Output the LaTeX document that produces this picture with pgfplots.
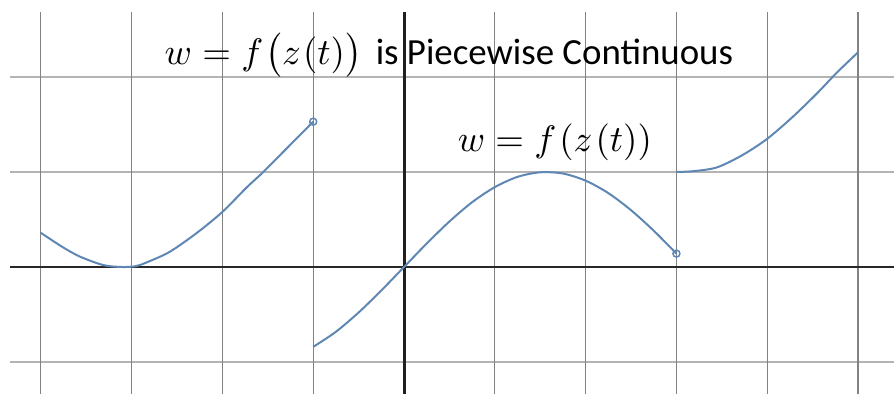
\documentclass[border=0pt]{standalone}
\usepackage{fontspec}
\setmainfont{Carlito}
\usepackage{pgfplots}
\pgfplotsset{compat=1.18}
\definecolor{curve}{RGB}{95,135,180}
\definecolor{vgrid}{RGB}{130,130,130}
\definecolor{hgrid}{RGB}{180,180,180}
\definecolor{axcol}{RGB}{40,40,40}
\begin{document}
\begin{tikzpicture}
\begin{axis}[
  width=894bp, height=394bp, scale only axis,
  xmin=-4.449, xmax=5.396, ymin=-1.337, ymax=2.811,
  hide axis, clip=true,
  every axis plot/.append style={forget plot},
]
% horizontal grid lines
\addplot[hgrid, line width=2bp] coordinates {(-4.339,2) (5.396,2)};
\addplot[hgrid, line width=2bp] coordinates {(-4.339,1) (5.396,1)};
\addplot[hgrid, line width=2bp] coordinates {(-4.339,-1) (5.396,-1)};
% vertical grid lines
\addplot[vgrid, line width=1.3bp] coordinates {(-4,2.684) (-4,-1.337)};
\addplot[vgrid, line width=1.3bp] coordinates {(-3,2.684) (-3,-1.337)};
\addplot[vgrid, line width=1.3bp] coordinates {(-2,2.684) (-2,-1.337)};
\addplot[vgrid, line width=1.3bp] coordinates {(-1,2.684) (-1,-1.337)};
\addplot[vgrid, line width=1.3bp] coordinates {(1,2.684) (1,-1.337)};
\addplot[vgrid, line width=1.3bp] coordinates {(2,2.684) (2,-1.337)};
\addplot[vgrid, line width=1.3bp] coordinates {(3,2.684) (3,-1.337)};
\addplot[vgrid, line width=1.3bp] coordinates {(4,2.684) (4,-1.337)};
\addplot[vgrid, line width=1.3bp] coordinates {(5,2.684) (5,-1.337)};
% axes
\addplot[axcol, line width=2.6bp] coordinates {(-4.339,0) (5.396,0)};
\addplot[axcol!80!black, line width=3bp] coordinates {(0,2.684) (0,-1.337)};
% curves
\addplot[curve, line width=2bp, smooth, tension=0.5] coordinates {
(-4,0.36) (-3.76,0.21) (-3.57,0.11) (-3.31,0.02) (-3.1,0) (-2.95,0.01) (-2.83,0.05)
(-2.58,0.16) (-2.28,0.36) (-2,0.58) (-1.73,0.84) (-1.55,1.0) (-1.28,1.26) (-1,1.53)};
\addplot[curve, line width=2bp, smooth] coordinates {
(-1,-0.841) (-0.75,-0.682) (-0.5,-0.479) (-0.25,-0.247) (0,0) (0.25,0.247) (0.5,0.479)
(0.75,0.682) (1,0.841) (1.25,0.949) (1.5,0.997) (1.75,0.984) (2,0.909) (2.25,0.778)
(2.5,0.598) (2.75,0.382) (3,0.141)};
\addplot[curve, line width=2bp, smooth, tension=0.5] coordinates {
(3,1.0) (3.2,1.01) (3.45,1.05) (3.73,1.18) (4,1.35) (4.28,1.58) (4.55,1.83) (4.77,2.05) (5,2.26)};
% open end points
\addplot[curve, line width=1.5bp, only marks, mark=o, mark size=3.5bp, mark options={fill=white}] coordinates {(-1,1.53) (3,0.141)};
% labels
\node[anchor=base west, inner sep=0pt, scale=3.7] at (axis cs:-2.643,2.137)
  {$w = f\mkern1mu\bigl(z\mkern1mu(t)\bigr)$\hspace{1.5pt} is Piecewise Continuous};
\node[anchor=base west, inner sep=0pt, scale=3.7] at (axis cs:0.584,1.211)
  {$w = f\mkern1.5mu(z\mkern1.5mu(t))$};
\end{axis}
\path (current axis.south west) rectangle (current axis.north east);
\end{tikzpicture}
\end{document}
